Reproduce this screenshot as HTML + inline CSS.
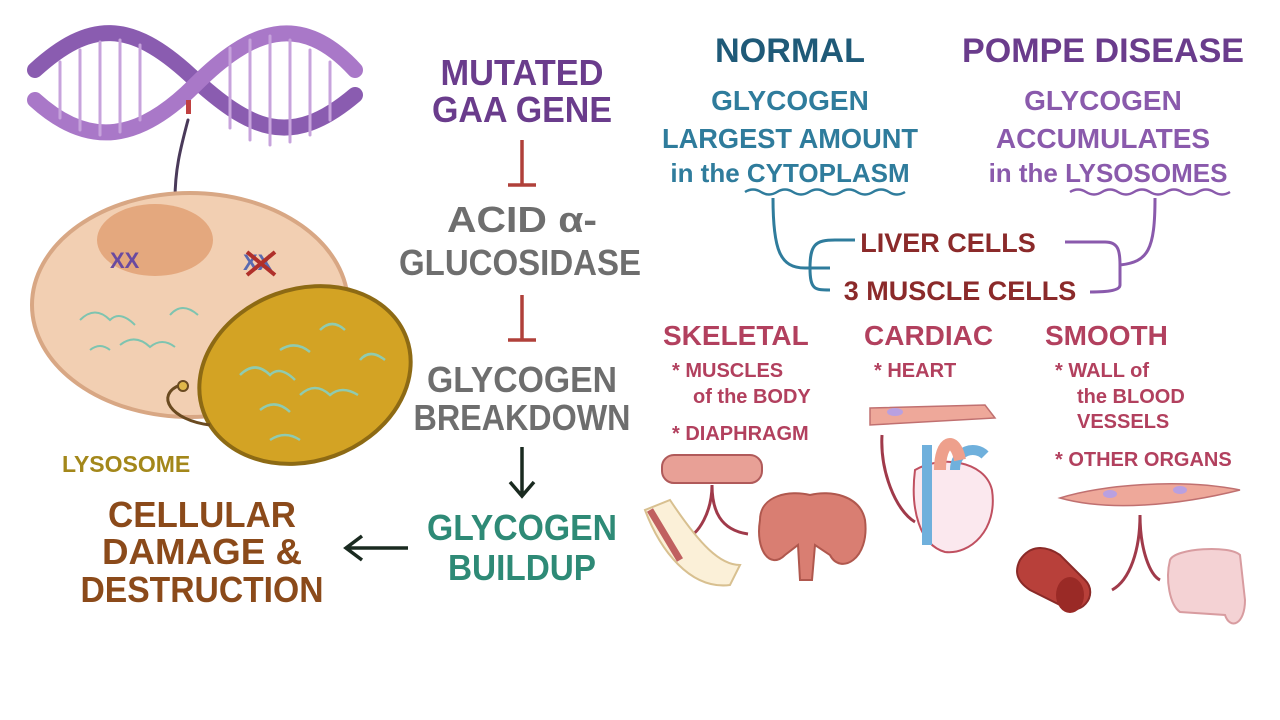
<!DOCTYPE html>
<html><head><meta charset="utf-8"><style>
html,body{margin:0;padding:0;background:#fff;width:1280px;height:720px;overflow:hidden}
svg text{font-family:"Liberation Sans",sans-serif;font-weight:bold}
</style></head><body>
<svg width="1280" height="720" viewBox="0 0 1280 720" xmlns="http://www.w3.org/2000/svg">
<g fill="none" stroke-linecap="round">
<path d="M35,70 C90,20 130,20 190,75 S290,150 355,95" stroke="#8a5cb0" stroke-width="16"/>
<path d="M35,100 C90,150 140,140 195,85 S300,10 355,70" stroke="#a978c8" stroke-width="16"/>
<g stroke="#c7a3dc" stroke-width="3">
<path d="M60,62 V118 M80,50 V130 M100,42 V135 M120,40 V132 M140,45 V120 M230,48 V128 M250,40 V140 M270,36 V145 M290,40 V142 M310,50 V135 M330,62 V120"/>
</g>
<path d="M188,120 C180,150 175,170 175,200 C172,240 160,250 140,260" stroke="#4a3a5a" stroke-width="3"/>
<rect x="186" y="100" width="5" height="14" fill="#c04040" stroke="none"/>
</g>
<ellipse cx="190" cy="305" rx="158" ry="112" fill="#f2cfb2" stroke="#d8a784" stroke-width="4"/>
<ellipse cx="155" cy="240" rx="58" ry="36" fill="#e4a87e"/>
<text x="110" y="268" font-size="22" fill="#6a4aa0">XX</text>
<text x="243" y="270" font-size="22" fill="#5a6ab0">XX</text>
<path d="M247,252 L275,275 M275,252 L247,275" stroke="#b0302a" stroke-width="4"/>
<g stroke="#7ec4b0" stroke-width="2" fill="none">
<path d="M80,320 q15,-15 30,0 q10,-10 25,5 M120,345 q15,-12 30,2 q12,-10 25,0 M170,315 q12,-14 28,0 M90,350 q10,-8 20,0"/>
</g>
<ellipse cx="305" cy="375" rx="108" ry="86" transform="rotate(-20 305 375)" fill="#d3a324" stroke="#8d6a14" stroke-width="4"/>
<g stroke="#8fcbb0" stroke-width="2.5" fill="none">
<path d="M240,375 q15,-15 30,0 q10,-10 25,5 M260,410 q15,-12 30,2 M300,395 q15,-14 30,0 q12,-10 28,0 M320,330 q12,-12 25,0 M280,350 q15,-10 30,2 M270,440 q15,-10 30,0 M360,360 q10,-12 25,0"/>
</g>
<path d="M210,425 C170,420 155,395 180,385" stroke="#6a4a20" stroke-width="3" fill="none"/>
<circle cx="183" cy="386" r="5" fill="#e0b84a" stroke="#6a4a20" stroke-width="2"/>
<text x="62" y="472" font-size="23" fill="#a3871a">LYSOSOME</text>
<g font-size="36" fill="#8b4a1a" text-anchor="middle">
<text x="202" y="527" textLength="188" lengthAdjust="spacingAndGlyphs">CELLULAR</text>
<text x="202" y="564" textLength="200" lengthAdjust="spacingAndGlyphs">DAMAGE &amp;</text>
<text x="202" y="602" textLength="243" lengthAdjust="spacingAndGlyphs">DESTRUCTION</text>
</g>
<path d="M408,548 H348 M362,536 L346,548 L362,560" stroke="#1a2a20" stroke-width="3.5" fill="none"/>
<g text-anchor="middle" font-size="36">
<text x="522" y="85" fill="#6a3c8c" textLength="163" lengthAdjust="spacingAndGlyphs">MUTATED</text>
<text x="522" y="122" fill="#6a3c8c" textLength="180" lengthAdjust="spacingAndGlyphs">GAA GENE</text>
<text x="522" y="232" fill="#6e6e6e" textLength="150" lengthAdjust="spacingAndGlyphs">ACID α-</text>
<text x="520" y="275" fill="#6e6e6e" textLength="242" lengthAdjust="spacingAndGlyphs">GLUCOSIDASE</text>
<text x="522" y="392" fill="#6e6e6e" textLength="190" lengthAdjust="spacingAndGlyphs">GLYCOGEN</text>
<text x="522" y="430" fill="#6e6e6e" textLength="217" lengthAdjust="spacingAndGlyphs">BREAKDOWN</text>
<text x="522" y="540" fill="#2e8a76" textLength="190" lengthAdjust="spacingAndGlyphs">GLYCOGEN</text>
<text x="522" y="580" fill="#2e8a76" textLength="148" lengthAdjust="spacingAndGlyphs">BUILDUP</text>
</g>
<path d="M522,140 V185 M508,185 H536 M522,295 V340 M508,340 H536" stroke="#b0403a" stroke-width="3.5"/>
<path d="M522,447 V494 M510,482 L522,496 L534,482" stroke="#1a2a20" stroke-width="3.5" fill="none"/>
<g text-anchor="middle">
<text x="790" y="62" font-size="34" fill="#1f5a78" textLength="150" lengthAdjust="spacingAndGlyphs">NORMAL</text>
<text x="790" y="110" font-size="28" fill="#2f7c9c">GLYCOGEN</text>
<text x="790" y="148" font-size="28" fill="#2f7c9c" textLength="256" lengthAdjust="spacingAndGlyphs">LARGEST AMOUNT</text>
<text x="790" y="182" font-size="26" fill="#2f7c9c">in the CYTOPLASM</text>
<text x="1103" y="62" font-size="34" fill="#6a3c8c" textLength="282" lengthAdjust="spacingAndGlyphs">POMPE DISEASE</text>
<text x="1103" y="110" font-size="28" fill="#8a5aac">GLYCOGEN</text>
<text x="1103" y="148" font-size="28" fill="#8a5aac">ACCUMULATES</text>
<text x="1108" y="182" font-size="26" fill="#8a5aac">in the LYSOSOMES</text>
</g>
<path d="M745,192 q8,-5 16,0 t16,0 t16,0 t16,0 t16,0 t16,0 t16,0 t16,0 t16,0 t16,0" stroke="#2f7c9c" stroke-width="2.5" fill="none"/>
<path d="M1070,192 q8,-5 16,0 t16,0 t16,0 t16,0 t16,0 t16,0 t16,0 t16,0 t16,0 t16,0" stroke="#8a5aac" stroke-width="2.5" fill="none"/>
<path d="M773,198 C773,250 780,268 805,268 H830 M855,240 H835 C815,240 810,245 810,268 C810,290 815,290 830,290" stroke="#2f7c9c" stroke-width="3" fill="none"/>
<path d="M1155,198 C1155,250 1148,262 1120,265 V285 C1120,290 1110,292 1090,292 M1065,242 H1105 C1118,242 1120,250 1120,265" stroke="#8a5aac" stroke-width="3" fill="none"/>
<text x="948" y="252" font-size="27" fill="#8b2a2a" text-anchor="middle">LIVER CELLS</text>
<text x="960" y="300" font-size="27" fill="#8b2a2a" text-anchor="middle">3 MUSCLE CELLS</text>
<g fill="#b2405e">
<text x="663" y="345" font-size="28">SKELETAL</text>
<text x="864" y="345" font-size="28">CARDIAC</text>
<text x="1045" y="345" font-size="28">SMOOTH</text>
<g font-size="20">
<text x="672" y="377">* MUSCLES</text>
<text x="693" y="403">of the BODY</text>
<text x="672" y="440">* DIAPHRAGM</text>
<text x="874" y="377">* HEART</text>
<text x="1055" y="377">* WALL of</text>
<text x="1077" y="403">the BLOOD</text>
<text x="1077" y="428">VESSELS</text>
<text x="1055" y="466">* OTHER ORGANS</text>
</g></g>
<rect x="662" y="455" width="100" height="28" rx="12" fill="#e8a096" stroke="#b05a5a" stroke-width="2"/>
<path d="M712,485 C712,510 700,535 683,540 M712,485 C712,510 720,530 748,534" stroke="#a03a4a" stroke-width="3" fill="none"/>
<path d="M645,510 C660,550 690,590 730,585 L740,565 C720,565 700,545 670,500 Z" fill="#fbf0d8" stroke="#d8c090" stroke-width="2"/>
<path d="M650,510 L680,560" stroke="#c06060" stroke-width="7"/>
<path d="M760,520 C760,495 790,490 810,495 C830,490 860,495 865,520 C870,560 840,575 830,555 L815,545 L812,580 L800,580 L798,545 L785,555 C770,570 755,550 760,520 Z" fill="#d97e72" stroke="#b0584e" stroke-width="2"/>
<path d="M870,408 L985,405 L995,418 L870,425 Z" fill="#eea89a" stroke="#c07070" stroke-width="1.5"/>
<ellipse cx="895" cy="412" rx="8" ry="4" fill="#b9a0e0"/>
<path d="M882,435 C880,470 895,510 915,522" stroke="#a03a4a" stroke-width="3" fill="none"/>
<path d="M915,470 C940,455 985,460 992,490 C998,530 970,555 945,552 C920,545 910,510 915,470 Z" fill="#fbe8ee" stroke="#c05060" stroke-width="2"/>
<rect x="922" y="445" width="10" height="100" fill="#6fb0dc"/>
<path d="M955,470 C955,450 975,445 985,455" stroke="#6fb0dc" stroke-width="10" fill="none"/>
<path d="M940,470 C940,440 955,435 960,460" stroke="#eea08c" stroke-width="12" fill="none"/>
<path d="M1060,498 C1100,485 1180,478 1240,490 C1180,505 1110,512 1060,498 Z" fill="#eea89a" stroke="#c07070" stroke-width="1.5"/>
<ellipse cx="1110" cy="494" rx="7" ry="4" fill="#b9a0e0"/>
<ellipse cx="1180" cy="490" rx="7" ry="4" fill="#b9a0e0"/>
<path d="M1140,515 C1140,550 1130,580 1112,590 M1140,515 C1140,550 1150,575 1160,580" stroke="#a03a4a" stroke-width="3" fill="none"/>
<path d="M1020,560 C1030,545 1045,545 1060,555 L1085,580 C1100,595 1080,620 1060,605 L1030,590 C1015,580 1015,570 1020,560 Z" fill="#b8403a" stroke="#8a2a28" stroke-width="2"/>
<ellipse cx="1070" cy="595" rx="14" ry="18" fill="#9a2a26"/>
<path d="M1170,560 C1175,548 1230,545 1240,555 L1245,600 C1245,625 1230,630 1225,615 L1180,612 C1170,605 1165,580 1170,560 Z" fill="#f4d2d4" stroke="#d89ca0" stroke-width="2"/>
</svg>
</body></html>
